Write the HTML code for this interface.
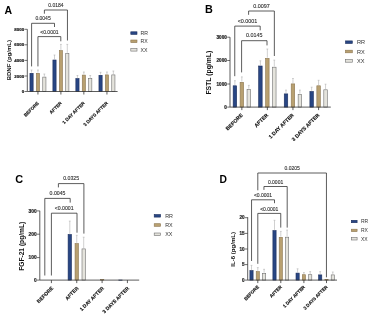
<!DOCTYPE html>
<html><head><meta charset="utf-8"><style>
html,body{margin:0;padding:0;background:#fff;width:371px;height:317px;overflow:hidden}
svg{display:block;font-family:"Liberation Sans",sans-serif;filter:blur(0.35px)}
</style></head><body>
<svg width="371" height="317" viewBox="0 0 371 317">
<rect width="371" height="317" fill="#fff"/>
<text x="4.5" y="13.7" font-size="10.5" font-weight="bold" fill="#000">A</text>
<path d="M44.4,13.7V10.0H67.45V40.5" fill="none" stroke="#333" stroke-width="0.8"/>
<text x="55.92" y="7.10" font-size="5.0" text-anchor="middle" fill="#333" stroke="#333" stroke-width="0.12">0.0184</text>
<path d="M31.6,66.4V23.3H54.5V27.0" fill="none" stroke="#333" stroke-width="0.8"/>
<text x="43.05" y="20.40" font-size="5.0" text-anchor="middle" fill="#333" stroke="#333" stroke-width="0.12">0.0045</text>
<path d="M37.95,66.4V36.6H60.8V41.3" fill="none" stroke="#333" stroke-width="0.8"/>
<text x="49.38" y="33.70" font-size="5.0" text-anchor="middle" fill="#333" stroke="#333" stroke-width="0.12">&lt;0.0001</text>
<path d="M31.55,72.60V70.00M30.65,70.00H32.45" stroke="#b0b0b0" stroke-width="0.6" fill="none"/>
<rect x="29.95" y="73.30" width="3.20" height="18.20" fill="#284684" stroke="#1b2d5c" stroke-width="0.6"/>
<path d="M37.95,72.60V70.00M37.05,70.00H38.85" stroke="#b0b0b0" stroke-width="0.6" fill="none"/>
<rect x="36.35" y="73.30" width="3.20" height="18.20" fill="#b8a070" stroke="#8c7650" stroke-width="0.6"/>
<path d="M44.35,76.40V74.00M43.45,74.00H45.25" stroke="#b0b0b0" stroke-width="0.6" fill="none"/>
<rect x="42.75" y="77.10" width="3.20" height="14.40" fill="#e4e3dc" stroke="#707070" stroke-width="0.6"/>
<path d="M54.50,59.30V55.00M53.60,55.00H55.40" stroke="#b0b0b0" stroke-width="0.6" fill="none"/>
<rect x="52.90" y="60.00" width="3.20" height="31.50" fill="#284684" stroke="#1b2d5c" stroke-width="0.6"/>
<path d="M60.90,49.90V44.40M60.00,44.40H61.80" stroke="#b0b0b0" stroke-width="0.6" fill="none"/>
<rect x="59.30" y="50.60" width="3.20" height="40.90" fill="#b8a070" stroke="#8c7650" stroke-width="0.6"/>
<path d="M67.30,52.80V44.40M66.40,44.40H68.20" stroke="#b0b0b0" stroke-width="0.6" fill="none"/>
<rect x="65.70" y="53.50" width="3.20" height="38.00" fill="#e4e3dc" stroke="#707070" stroke-width="0.6"/>
<path d="M77.45,77.90V75.50M76.55,75.50H78.35" stroke="#b0b0b0" stroke-width="0.6" fill="none"/>
<rect x="75.85" y="78.60" width="3.20" height="12.90" fill="#284684" stroke="#1b2d5c" stroke-width="0.6"/>
<path d="M83.85,74.40V72.00M82.95,72.00H84.75" stroke="#b0b0b0" stroke-width="0.6" fill="none"/>
<rect x="82.25" y="75.10" width="3.20" height="16.40" fill="#b8a070" stroke="#8c7650" stroke-width="0.6"/>
<path d="M90.25,77.90V75.50M89.35,75.50H91.15" stroke="#b0b0b0" stroke-width="0.6" fill="none"/>
<rect x="88.65" y="78.60" width="3.20" height="12.90" fill="#e4e3dc" stroke="#707070" stroke-width="0.6"/>
<path d="M100.55,74.60V72.30M99.65,72.30H101.45" stroke="#b0b0b0" stroke-width="0.6" fill="none"/>
<rect x="98.95" y="75.30" width="3.20" height="16.20" fill="#284684" stroke="#1b2d5c" stroke-width="0.6"/>
<path d="M106.95,74.20V72.00M106.05,72.00H107.85" stroke="#b0b0b0" stroke-width="0.6" fill="none"/>
<rect x="105.35" y="74.90" width="3.20" height="16.60" fill="#b8a070" stroke="#8c7650" stroke-width="0.6"/>
<path d="M113.35,74.20V71.00M112.45,71.00H114.25" stroke="#b0b0b0" stroke-width="0.6" fill="none"/>
<rect x="111.75" y="74.90" width="3.20" height="16.60" fill="#e4e3dc" stroke="#707070" stroke-width="0.6"/>
<path d="M27.3,29.3V91.5H117.6" fill="none" stroke="#333" stroke-width="0.8"/>
<path d="M24.5,91.5H27.3" stroke="#333" stroke-width="0.7"/>
<text x="24.1" y="93.08" font-size="4.4" font-weight="bold" text-anchor="end" fill="#222" stroke="#222" stroke-width="0.2">0</text>
<path d="M24.5,76.0H27.3" stroke="#333" stroke-width="0.7"/>
<text x="24.1" y="77.58" font-size="4.4" font-weight="bold" text-anchor="end" fill="#222" stroke="#222" stroke-width="0.2">2000</text>
<path d="M24.5,60.4H27.3" stroke="#333" stroke-width="0.7"/>
<text x="24.1" y="61.98" font-size="4.4" font-weight="bold" text-anchor="end" fill="#222" stroke="#222" stroke-width="0.2">4000</text>
<path d="M24.5,44.8H27.3" stroke="#333" stroke-width="0.7"/>
<text x="24.1" y="46.38" font-size="4.4" font-weight="bold" text-anchor="end" fill="#222" stroke="#222" stroke-width="0.2">6000</text>
<path d="M24.5,29.3H27.3" stroke="#333" stroke-width="0.7"/>
<text x="24.1" y="30.88" font-size="4.4" font-weight="bold" text-anchor="end" fill="#222" stroke="#222" stroke-width="0.2">8000</text>
<path d="M37.95,91.5V94.5" stroke="#333" stroke-width="0.8"/>
<path d="M60.9,91.5V94.5" stroke="#333" stroke-width="0.8"/>
<path d="M83.85,91.5V94.5" stroke="#333" stroke-width="0.8"/>
<path d="M106.95,91.5V94.5" stroke="#333" stroke-width="0.8"/>
<text transform="translate(10.5,60.2) rotate(-90)" font-size="6.0" font-weight="bold" text-anchor="middle" fill="#111">BDNF (pg/mL)</text>
<text transform="translate(39.25,103.50) rotate(-45)" font-size="4.6" font-weight="bold" text-anchor="end" fill="#111" stroke="#111" stroke-width="0.15">BEFORE</text>
<text transform="translate(62.20,103.50) rotate(-45)" font-size="4.6" font-weight="bold" text-anchor="end" fill="#111" stroke="#111" stroke-width="0.15">AFTER</text>
<text transform="translate(85.15,103.50) rotate(-45)" font-size="4.6" font-weight="bold" text-anchor="end" fill="#111" stroke="#111" stroke-width="0.15">1 DAY AFTER</text>
<text transform="translate(108.25,103.50) rotate(-45)" font-size="4.6" font-weight="bold" text-anchor="end" fill="#111" stroke="#111" stroke-width="0.15">3 DAYS AFTER</text>
<rect x="130.8" y="31.80" width="6.2" height="2.6" fill="#284684" stroke="#1b2d5c" stroke-width="0.6"/>
<text x="140.6" y="34.97" font-size="5.2" fill="#333">RR</text>
<rect x="130.8" y="40.00" width="6.2" height="2.6" fill="#b8a070" stroke="#8c7650" stroke-width="0.6"/>
<text x="140.6" y="43.17" font-size="5.2" fill="#333">RX</text>
<rect x="130.8" y="48.50" width="6.2" height="2.6" fill="#e4e3dc" stroke="#707070" stroke-width="0.6"/>
<text x="140.6" y="51.67" font-size="5.2" fill="#333">XX</text>
<text x="205.1" y="13.3" font-size="10.8" font-weight="bold" fill="#000">B</text>
<path d="M248.6,14.8V11.0H274.35V56.0" fill="none" stroke="#333" stroke-width="0.8"/>
<text x="261.48" y="7.60" font-size="5.4" text-anchor="middle" fill="#333" stroke="#333" stroke-width="0.12">0.0097</text>
<path d="M234.75,76.2V26.1H260.2V30.3" fill="none" stroke="#333" stroke-width="0.8"/>
<text x="247.47" y="22.70" font-size="5.4" text-anchor="middle" fill="#333" stroke="#333" stroke-width="0.12">&lt;0.0001</text>
<path d="M241.6,72.4V40.7H267.0V45.4" fill="none" stroke="#333" stroke-width="0.8"/>
<text x="254.30" y="37.30" font-size="5.4" text-anchor="middle" fill="#333" stroke="#333" stroke-width="0.12">0.0145</text>
<path d="M234.90,85.10V80.70M234.00,80.70H235.80" stroke="#b0b0b0" stroke-width="0.6" fill="none"/>
<rect x="233.15" y="85.80" width="3.50" height="21.30" fill="#284684" stroke="#1b2d5c" stroke-width="0.6"/>
<path d="M241.85,81.60V76.90M240.95,76.90H242.75" stroke="#b0b0b0" stroke-width="0.6" fill="none"/>
<rect x="240.10" y="82.30" width="3.50" height="24.80" fill="#b8a070" stroke="#8c7650" stroke-width="0.6"/>
<path d="M248.80,88.70V85.40M247.90,85.40H249.70" stroke="#b0b0b0" stroke-width="0.6" fill="none"/>
<rect x="247.05" y="89.40" width="3.50" height="17.70" fill="#e4e3dc" stroke="#707070" stroke-width="0.6"/>
<path d="M260.40,65.30V60.80M259.50,60.80H261.30" stroke="#b0b0b0" stroke-width="0.6" fill="none"/>
<rect x="258.65" y="66.00" width="3.50" height="41.10" fill="#284684" stroke="#1b2d5c" stroke-width="0.6"/>
<path d="M267.35,57.70V49.00M266.45,49.00H268.25" stroke="#b0b0b0" stroke-width="0.6" fill="none"/>
<rect x="265.60" y="58.40" width="3.50" height="48.70" fill="#b8a070" stroke="#8c7650" stroke-width="0.6"/>
<path d="M274.30,66.50V60.10M273.40,60.10H275.20" stroke="#b0b0b0" stroke-width="0.6" fill="none"/>
<rect x="272.55" y="67.20" width="3.50" height="39.90" fill="#e4e3dc" stroke="#707070" stroke-width="0.6"/>
<path d="M286.00,93.20V90.10M285.10,90.10H286.90" stroke="#b0b0b0" stroke-width="0.6" fill="none"/>
<rect x="284.25" y="93.90" width="3.50" height="13.20" fill="#284684" stroke="#1b2d5c" stroke-width="0.6"/>
<path d="M292.95,83.20V78.50M292.05,78.50H293.85" stroke="#b0b0b0" stroke-width="0.6" fill="none"/>
<rect x="291.20" y="83.90" width="3.50" height="23.20" fill="#b8a070" stroke="#8c7650" stroke-width="0.6"/>
<path d="M299.90,93.60V90.10M299.00,90.10H300.80" stroke="#b0b0b0" stroke-width="0.6" fill="none"/>
<rect x="298.15" y="94.30" width="3.50" height="12.80" fill="#e4e3dc" stroke="#707070" stroke-width="0.6"/>
<path d="M311.65,90.80V87.20M310.75,87.20H312.55" stroke="#b0b0b0" stroke-width="0.6" fill="none"/>
<rect x="309.90" y="91.50" width="3.50" height="15.60" fill="#284684" stroke="#1b2d5c" stroke-width="0.6"/>
<path d="M318.60,85.10V80.30M317.70,80.30H319.50" stroke="#b0b0b0" stroke-width="0.6" fill="none"/>
<rect x="316.85" y="85.80" width="3.50" height="21.30" fill="#b8a070" stroke="#8c7650" stroke-width="0.6"/>
<path d="M325.55,89.10V84.20M324.65,84.20H326.45" stroke="#b0b0b0" stroke-width="0.6" fill="none"/>
<rect x="323.80" y="89.80" width="3.50" height="17.30" fill="#e4e3dc" stroke="#707070" stroke-width="0.6"/>
<path d="M230.0,37.2V107.1H330.8" fill="none" stroke="#333" stroke-width="0.8"/>
<path d="M227.2,107.1H230.0" stroke="#333" stroke-width="0.7"/>
<text x="226.8" y="108.76" font-size="4.6" font-weight="bold" text-anchor="end" fill="#222" stroke="#222" stroke-width="0.2">0</text>
<path d="M227.2,84.0H230.0" stroke="#333" stroke-width="0.7"/>
<text x="226.8" y="85.66" font-size="4.6" font-weight="bold" text-anchor="end" fill="#222" stroke="#222" stroke-width="0.2">1000</text>
<path d="M227.2,60.5H230.0" stroke="#333" stroke-width="0.7"/>
<text x="226.8" y="62.16" font-size="4.6" font-weight="bold" text-anchor="end" fill="#222" stroke="#222" stroke-width="0.2">2000</text>
<path d="M227.2,37.2H230.0" stroke="#333" stroke-width="0.7"/>
<text x="226.8" y="38.86" font-size="4.6" font-weight="bold" text-anchor="end" fill="#222" stroke="#222" stroke-width="0.2">3000</text>
<path d="M241.85,107.1V110.1" stroke="#333" stroke-width="0.8"/>
<path d="M267.35,107.1V110.1" stroke="#333" stroke-width="0.8"/>
<path d="M292.95,107.1V110.1" stroke="#333" stroke-width="0.8"/>
<path d="M318.6,107.1V110.1" stroke="#333" stroke-width="0.8"/>
<text transform="translate(210.9,72.7) rotate(-90)" font-size="6.8" font-weight="bold" text-anchor="middle" fill="#111">FSTL (pg/mL)</text>
<text transform="translate(243.15,115.50) rotate(-45)" font-size="5.2" font-weight="bold" text-anchor="end" fill="#111" stroke="#111" stroke-width="0.15">BEFORE</text>
<text transform="translate(268.65,115.50) rotate(-45)" font-size="5.2" font-weight="bold" text-anchor="end" fill="#111" stroke="#111" stroke-width="0.15">AFTER</text>
<text transform="translate(294.25,115.50) rotate(-45)" font-size="5.2" font-weight="bold" text-anchor="end" fill="#111" stroke="#111" stroke-width="0.15">1 DAY AFTER</text>
<text transform="translate(319.90,115.50) rotate(-45)" font-size="5.2" font-weight="bold" text-anchor="end" fill="#111" stroke="#111" stroke-width="0.15">3 DAYS AFTER</text>
<rect x="345.5" y="40.90" width="6.800000000000001" height="2.6" fill="#284684" stroke="#1b2d5c" stroke-width="0.6"/>
<text x="357.0" y="44.22" font-size="5.6" fill="#333">RR</text>
<rect x="345.5" y="50.20" width="6.800000000000001" height="2.6" fill="#b8a070" stroke="#8c7650" stroke-width="0.6"/>
<text x="357.0" y="53.52" font-size="5.6" fill="#333">RX</text>
<rect x="345.5" y="59.60" width="6.800000000000001" height="2.6" fill="#e4e3dc" stroke="#707070" stroke-width="0.6"/>
<text x="357.0" y="62.92" font-size="5.6" fill="#333">XX</text>
<text x="15.3" y="182.8" font-size="10.9" font-weight="bold" fill="#000">C</text>
<path d="M58.4,187.4V183.6H83.9V233.6" fill="none" stroke="#333" stroke-width="0.8"/>
<text x="71.15" y="180.20" font-size="5.2" text-anchor="middle" fill="#333" stroke="#333" stroke-width="0.12">0.0325</text>
<path d="M44.8,275.5V198.4H70.2V202.6" fill="none" stroke="#333" stroke-width="0.8"/>
<text x="57.50" y="195.00" font-size="5.2" text-anchor="middle" fill="#333" stroke="#333" stroke-width="0.12">0.0045</text>
<path d="M51.4,275.5V213.2H77.0V232.7" fill="none" stroke="#333" stroke-width="0.8"/>
<text x="64.20" y="209.80" font-size="5.2" text-anchor="middle" fill="#333" stroke="#333" stroke-width="0.12">&lt;0.0001</text>
<path d="M69.80,233.80V221.10M68.90,221.10H70.70" stroke="#b0b0b0" stroke-width="0.6" fill="none"/>
<rect x="68.10" y="234.50" width="3.40" height="45.60" fill="#284684" stroke="#1b2d5c" stroke-width="0.6"/>
<path d="M76.75,242.90V235.30M75.85,235.30H77.65" stroke="#b0b0b0" stroke-width="0.6" fill="none"/>
<rect x="75.05" y="243.60" width="3.40" height="36.50" fill="#b8a070" stroke="#8c7650" stroke-width="0.6"/>
<path d="M83.70,248.20V237.20M82.80,237.20H84.60" stroke="#b0b0b0" stroke-width="0.6" fill="none"/>
<rect x="82.00" y="248.90" width="3.40" height="31.20" fill="#e4e3dc" stroke="#707070" stroke-width="0.6"/>
<rect x="100.40" y="279.50" width="3.40" height="0.60" fill="#b8a070" stroke="#8c7650" stroke-width="0.6"/>
<rect x="118.75" y="280.00" width="3.40" height="0.20" fill="#284684" stroke="#1b2d5c" stroke-width="0.6"/>
<path d="M39.8,210.8V280.1H139.2" fill="none" stroke="#333" stroke-width="0.8"/>
<path d="M37.0,280.1H39.8" stroke="#333" stroke-width="0.7"/>
<text x="36.599999999999994" y="281.83" font-size="4.8" font-weight="bold" text-anchor="end" fill="#222" stroke="#222" stroke-width="0.2">0</text>
<path d="M37.0,257.6H39.8" stroke="#333" stroke-width="0.7"/>
<text x="36.599999999999994" y="259.33" font-size="4.8" font-weight="bold" text-anchor="end" fill="#222" stroke="#222" stroke-width="0.2">100</text>
<path d="M37.0,234.2H39.8" stroke="#333" stroke-width="0.7"/>
<text x="36.599999999999994" y="235.93" font-size="4.8" font-weight="bold" text-anchor="end" fill="#222" stroke="#222" stroke-width="0.2">200</text>
<path d="M37.0,210.9H39.8" stroke="#333" stroke-width="0.7"/>
<text x="36.599999999999994" y="212.63" font-size="4.8" font-weight="bold" text-anchor="end" fill="#222" stroke="#222" stroke-width="0.2">300</text>
<path d="M51.4,280.1V283.1" stroke="#333" stroke-width="0.8"/>
<path d="M76.75,280.1V283.1" stroke="#333" stroke-width="0.8"/>
<path d="M102.1,280.1V283.1" stroke="#333" stroke-width="0.8"/>
<path d="M127.4,280.1V283.1" stroke="#333" stroke-width="0.8"/>
<text transform="translate(23.9,246.3) rotate(-90)" font-size="6.65" font-weight="bold" text-anchor="middle" fill="#111">FGF-21 (pg/mL)</text>
<text transform="translate(53.60,288.70) rotate(-45)" font-size="5.0" font-weight="bold" text-anchor="end" fill="#111" stroke="#111" stroke-width="0.15">BEFORE</text>
<text transform="translate(78.95,288.70) rotate(-45)" font-size="5.0" font-weight="bold" text-anchor="end" fill="#111" stroke="#111" stroke-width="0.15">AFTER</text>
<text transform="translate(104.30,288.70) rotate(-45)" font-size="5.0" font-weight="bold" text-anchor="end" fill="#111" stroke="#111" stroke-width="0.15">1 DAY AFTER</text>
<text transform="translate(129.60,288.70) rotate(-45)" font-size="5.0" font-weight="bold" text-anchor="end" fill="#111" stroke="#111" stroke-width="0.15">3 DAYS AFTER</text>
<rect x="154.20000000000002" y="214.50" width="6.4" height="2.6" fill="#284684" stroke="#1b2d5c" stroke-width="0.6"/>
<text x="165.2" y="217.74" font-size="5.4" fill="#333">RR</text>
<rect x="154.20000000000002" y="223.70" width="6.4" height="2.6" fill="#b8a070" stroke="#8c7650" stroke-width="0.6"/>
<text x="165.2" y="226.94" font-size="5.4" fill="#333">RX</text>
<rect x="154.20000000000002" y="233.00" width="6.4" height="2.6" fill="#e4e3dc" stroke="#707070" stroke-width="0.6"/>
<text x="165.2" y="236.24" font-size="5.4" fill="#333">XX</text>
<text x="219.6" y="182.6" font-size="10.3" font-weight="bold" fill="#000">D</text>
<path d="M257.8,190.3V173.0H326.45V277.3" fill="none" stroke="#333" stroke-width="0.8"/>
<text x="292.12" y="170.30" font-size="5.0" text-anchor="middle" fill="#333" stroke="#333" stroke-width="0.12">0.0205</text>
<path d="M263.95,189.9V186.5H287.2V227.6" fill="none" stroke="#333" stroke-width="0.8"/>
<text x="275.57" y="183.80" font-size="5.0" text-anchor="middle" fill="#333" stroke="#333" stroke-width="0.12">0.0001</text>
<path d="M251.55,261.0V199.8H274.5V203.2" fill="none" stroke="#333" stroke-width="0.8"/>
<text x="263.02" y="197.10" font-size="5.0" text-anchor="middle" fill="#333" stroke="#333" stroke-width="0.12">&lt;0.0001</text>
<path d="M257.8,263.8V213.4H280.75V227.6" fill="none" stroke="#333" stroke-width="0.8"/>
<text x="269.27" y="210.70" font-size="5.0" text-anchor="middle" fill="#333" stroke="#333" stroke-width="0.12">&lt;0.0001</text>
<path d="M251.50,269.90V265.40M250.60,265.40H252.40" stroke="#b0b0b0" stroke-width="0.6" fill="none"/>
<rect x="249.90" y="270.60" width="3.20" height="9.50" fill="#284684" stroke="#1b2d5c" stroke-width="0.6"/>
<path d="M257.80,270.90V267.60M256.90,267.60H258.70" stroke="#b0b0b0" stroke-width="0.6" fill="none"/>
<rect x="256.20" y="271.60" width="3.20" height="8.50" fill="#b8a070" stroke="#8c7650" stroke-width="0.6"/>
<path d="M264.10,272.70V269.30M263.20,269.30H265.00" stroke="#b0b0b0" stroke-width="0.6" fill="none"/>
<rect x="262.50" y="273.40" width="3.20" height="6.70" fill="#e4e3dc" stroke="#707070" stroke-width="0.6"/>
<path d="M274.50,229.90V220.30M273.60,220.30H275.40" stroke="#b0b0b0" stroke-width="0.6" fill="none"/>
<rect x="272.90" y="230.60" width="3.20" height="49.50" fill="#284684" stroke="#1b2d5c" stroke-width="0.6"/>
<path d="M280.80,236.60V231.40M279.90,231.40H281.70" stroke="#b0b0b0" stroke-width="0.6" fill="none"/>
<rect x="279.20" y="237.30" width="3.20" height="42.80" fill="#b8a070" stroke="#8c7650" stroke-width="0.6"/>
<path d="M287.10,236.50V230.10M286.20,230.10H288.00" stroke="#b0b0b0" stroke-width="0.6" fill="none"/>
<rect x="285.50" y="237.20" width="3.20" height="42.90" fill="#e4e3dc" stroke="#707070" stroke-width="0.6"/>
<path d="M297.60,272.40V268.80M296.70,268.80H298.50" stroke="#b0b0b0" stroke-width="0.6" fill="none"/>
<rect x="296.00" y="273.10" width="3.20" height="7.00" fill="#284684" stroke="#1b2d5c" stroke-width="0.6"/>
<path d="M303.90,274.00V272.60M303.00,272.60H304.80" stroke="#b0b0b0" stroke-width="0.6" fill="none"/>
<rect x="302.30" y="274.70" width="3.20" height="5.40" fill="#b8a070" stroke="#8c7650" stroke-width="0.6"/>
<path d="M310.20,274.00V271.60M309.30,271.60H311.10" stroke="#b0b0b0" stroke-width="0.6" fill="none"/>
<rect x="308.60" y="274.70" width="3.20" height="5.40" fill="#e4e3dc" stroke="#707070" stroke-width="0.6"/>
<path d="M320.20,274.20V271.60M319.30,271.60H321.10" stroke="#b0b0b0" stroke-width="0.6" fill="none"/>
<rect x="318.60" y="274.90" width="3.20" height="5.20" fill="#284684" stroke="#1b2d5c" stroke-width="0.6"/>
<rect x="324.90" y="279.30" width="3.20" height="0.80" fill="#b8a070" stroke="#8c7650" stroke-width="0.6"/>
<path d="M332.80,274.20V272.00M331.90,272.00H333.70" stroke="#b0b0b0" stroke-width="0.6" fill="none"/>
<rect x="331.20" y="274.90" width="3.20" height="5.20" fill="#e4e3dc" stroke="#707070" stroke-width="0.6"/>
<path d="M247.7,217.2V280.1H337.0" fill="none" stroke="#333" stroke-width="0.8"/>
<path d="M244.89999999999998,280.1H247.7" stroke="#333" stroke-width="0.7"/>
<text x="244.5" y="281.76" font-size="4.6" font-weight="bold" text-anchor="end" fill="#222" stroke="#222" stroke-width="0.2">0</text>
<path d="M244.89999999999998,264.6H247.7" stroke="#333" stroke-width="0.7"/>
<text x="244.5" y="266.26" font-size="4.6" font-weight="bold" text-anchor="end" fill="#222" stroke="#222" stroke-width="0.2">5</text>
<path d="M244.89999999999998,249.0H247.7" stroke="#333" stroke-width="0.7"/>
<text x="244.5" y="250.66" font-size="4.6" font-weight="bold" text-anchor="end" fill="#222" stroke="#222" stroke-width="0.2">10</text>
<path d="M244.89999999999998,233.4H247.7" stroke="#333" stroke-width="0.7"/>
<text x="244.5" y="235.06" font-size="4.6" font-weight="bold" text-anchor="end" fill="#222" stroke="#222" stroke-width="0.2">15</text>
<path d="M244.89999999999998,217.7H247.7" stroke="#333" stroke-width="0.7"/>
<text x="244.5" y="219.36" font-size="4.6" font-weight="bold" text-anchor="end" fill="#222" stroke="#222" stroke-width="0.2">20</text>
<path d="M257.8,280.1V283.1" stroke="#333" stroke-width="0.8"/>
<path d="M280.8,280.1V283.1" stroke="#333" stroke-width="0.8"/>
<path d="M303.9,280.1V283.1" stroke="#333" stroke-width="0.8"/>
<path d="M326.5,280.1V283.1" stroke="#333" stroke-width="0.8"/>
<text transform="translate(235.3,249.3) rotate(-90)" font-size="6.1" font-weight="bold" text-anchor="middle" fill="#111">IL-6 (pg/mL)</text>
<text transform="translate(259.30,287.30) rotate(-45)" font-size="4.55" font-weight="bold" text-anchor="end" fill="#111" stroke="#111" stroke-width="0.15">BEFORE</text>
<text transform="translate(282.30,287.30) rotate(-45)" font-size="4.55" font-weight="bold" text-anchor="end" fill="#111" stroke="#111" stroke-width="0.15">AFTER</text>
<text transform="translate(305.40,287.30) rotate(-45)" font-size="4.55" font-weight="bold" text-anchor="end" fill="#111" stroke="#111" stroke-width="0.15">1 DAY AFTER</text>
<text transform="translate(328.00,287.30) rotate(-45)" font-size="4.55" font-weight="bold" text-anchor="end" fill="#111" stroke="#111" stroke-width="0.15">3 DAYS AFTER</text>
<rect x="351.3" y="220.30" width="5.800000000000001" height="2.4" fill="#284684" stroke="#1b2d5c" stroke-width="0.6"/>
<text x="360.9" y="223.30" font-size="5.0" fill="#333">RR</text>
<rect x="351.3" y="229.20" width="5.800000000000001" height="2.4" fill="#b8a070" stroke="#8c7650" stroke-width="0.6"/>
<text x="360.9" y="232.20" font-size="5.0" fill="#333">RX</text>
<rect x="351.3" y="237.60" width="5.800000000000001" height="2.4" fill="#e4e3dc" stroke="#707070" stroke-width="0.6"/>
<text x="360.9" y="240.60" font-size="5.0" fill="#333">XX</text>
</svg>
</body></html>
